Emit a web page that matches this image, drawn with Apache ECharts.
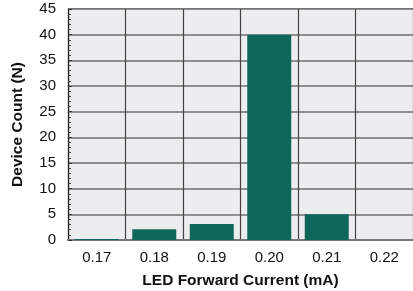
<!DOCTYPE html>
<html><head><meta charset="utf-8">
<script src="https://cdn.jsdelivr.net/npm/echarts@6/dist/echarts.min.js"></script>
<style>html,body{margin:0;padding:0;background:#fff}#c{width:413px;height:291px}</style>
</head><body><div id="c"></div>
<script>
const categories = ['0.17','0.18','0.19','0.20','0.21','0.22'];
const deviceCount = [0.2, 2.1, 3.1, 40, 5, 0];
const yTicks = [0,5,10,15,20,25,30,35,40,45];

const FONT = 'Liberation Sans, Arial, sans-serif';
const chart = echarts.init(document.getElementById('c'), null, {renderer:'canvas'});
chart.setOption({
  animation:false,
  backgroundColor:'#fff',
  grid:{left:68, top:9, right:0, bottom:51, containLabel:false, outerBoundsMode:'none'},
  xAxis:{
    type:'category', data:categories, boundaryGap:true,
    name:'LED Forward Current (mA)', nameLocation:'middle', nameGap:33,
    nameTextStyle:{fontFamily:FONT, fontWeight:'bold', fontSize:15.5, color:'#111'},
    axisLine:{show:true, lineStyle:{color:'#777', width:2}},
    axisTick:{show:false},
    axisLabel:{fontFamily:FONT, fontSize:15, color:'#111', margin:10},
    splitLine:{show:true, lineStyle:{color:'#444', width:1.2}}
  },
  yAxis:{
    type:'value', min:0, max:45, interval:5,
    name:'Device Count (N)', nameLocation:'middle', nameGap:42,
    nameTextStyle:{fontFamily:FONT, fontWeight:'bold', fontSize:15.5, color:'#111'},
    axisLine:{show:true, lineStyle:{color:'#222', width:1.2}},
    axisTick:{show:true, inside:true, length:4, lineStyle:{color:'#333', width:1}},
    minorTick:{show:true, splitNumber:5, length:3, lineStyle:{color:'#444', width:1}},
    axisLabel:{fontFamily:FONT, fontSize:15, color:'#111', margin:12,
      formatter:v=>yTicks.includes(v)?String(v):''},
    splitLine:{show:true, lineStyle:{color:'#6e6e6e', width:1.5}},
    splitArea:{show:true, areaStyle:{color:['#ECEDEF','#ECEDEF']}}
  },
  series:[{
    type:'bar', data:deviceCount, barWidth:44,
    itemStyle:{color:'#10665A'}
  }],
  graphic:[{type:'line', shape:{x1:68,y1:9,x2:413,y2:9}, style:{stroke:'#111', lineWidth:1.2}}]
});
</script></body></html>
